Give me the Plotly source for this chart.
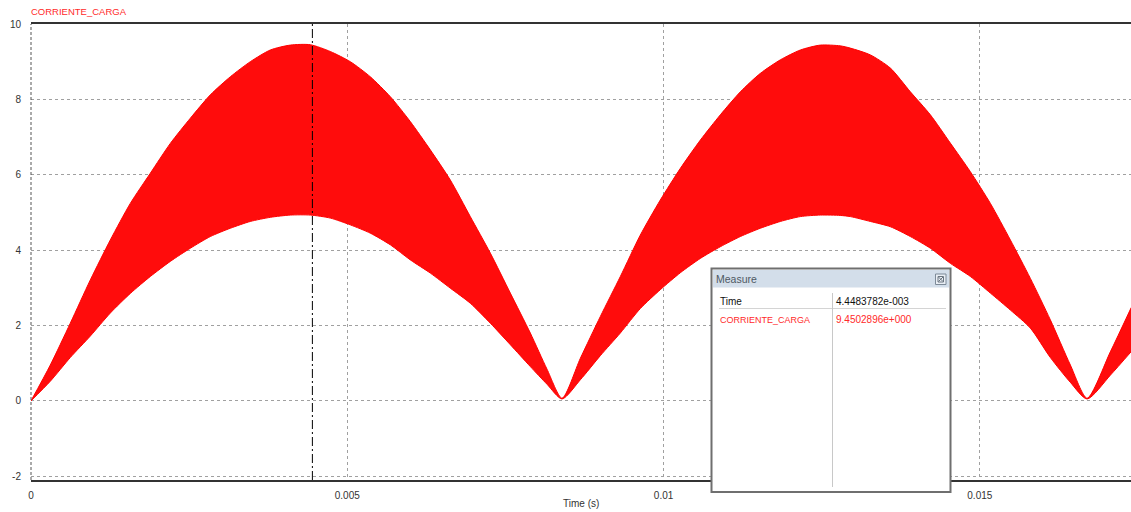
import plotly.graph_objects as go

# ---- data (time in ms, current in A) ----
t_ms = [0.000, 0.305, 0.621, 0.938, 1.254, 1.570, 1.886, 2.202, 2.519, 2.835,
        3.151, 3.467, 3.783, 4.099, 4.416, 4.732, 5.048, 5.364, 5.681, 5.997,
        6.313, 6.629, 6.945, 7.262, 7.578, 7.894, 8.158, 8.395, 8.685, 9.001,
        9.317, 9.633, 9.949, 10.266, 10.582, 10.898, 11.214, 11.530, 11.847, 12.163,
        12.479, 12.795, 12.953, 13.270, 13.586, 13.902, 14.218, 14.534, 14.851, 15.167,
        15.483, 15.799, 16.115, 16.432, 16.696, 17.063, 17.395]
i_upper = [0.00, 0.95, 2.06, 3.21, 4.27, 5.24, 6.04, 6.83, 7.50, 8.12,
           8.60, 9.00, 9.31, 9.44, 9.45, 9.27, 9.00, 8.60, 8.07, 7.41,
           6.66, 5.86, 4.89, 3.92, 2.86, 1.80, 0.84, 0.07, 1.13, 2.24,
           3.30, 4.40, 5.33, 6.17, 6.92, 7.59, 8.20, 8.69, 9.05, 9.31,
           9.44, 9.42, 9.36, 9.18, 8.83, 8.20, 7.59, 6.84, 6.08, 5.24,
           4.27, 3.25, 2.15, 0.95, 0.07, 1.30, 2.48]
i_lower = [0.00, 0.52, 1.15, 1.72, 2.33, 2.85, 3.30, 3.70, 4.05, 4.36,
           4.58, 4.76, 4.87, 4.93, 4.93, 4.85, 4.67, 4.45, 4.14, 3.74,
           3.39, 2.99, 2.59, 2.06, 1.49, 0.91, 0.44, 0.05, 0.56, 1.20,
           1.80, 2.45, 2.95, 3.40, 3.78, 4.09, 4.36, 4.58, 4.76, 4.89,
           4.93, 4.92, 4.89, 4.76, 4.62, 4.36, 4.05, 3.65, 3.30, 2.86,
           2.41, 1.93, 1.15, 0.49, 0.05, 0.68, 1.31]

x_ticks = [0, 0.005, 0.01, 0.015]
x_tick_text = ["0", "0.005", "0.01", "0.015"]
y_ticks = [-2, 0, 2, 4, 6, 8, 10]
y_tick_text = ["-2", "0", "2", "4", "6", "8", "10"]

series_name = "CORRIENTE_CARGA"
cursor_time = 4.4483782e-3
cursor_value = 9.4502896
cursor_time_text = "4.4483782e-003"
cursor_value_text = "9.4502896e+000"

# ---- layout geometry ----
W, H = 1131, 512
ML, MR, MT, MB = 31, 0, 24, 32
PW = W - ML - MR
PH = H - MT - MB


def px(xp):
    return (xp - ML) / PW


def py(yp):
    return (H - MB - yp) / PH


t_s = [v / 1000.0 for v in t_ms]
RED = "#ff0000"

fig = go.Figure()
fig.add_trace(go.Scatter(x=t_s, y=i_lower, mode="lines",
                         line=dict(color=RED, width=1, shape="spline", smoothing=0.7),
                         showlegend=False, hoverinfo="skip"))
fig.add_trace(go.Scatter(x=t_s, y=i_upper, mode="lines",
                         line=dict(color=RED, width=1, shape="spline", smoothing=0.7),
                         fill="tonexty", fillcolor="rgba(255,12,12,1)",
                         showlegend=False, hoverinfo="skip"))

font_main = "Liberation Sans, Arial, sans-serif"
GRID = "#a0a0a0"

shapes = []
# cursor
shapes.append(dict(type="line", xref="x", yref="paper", x0=cursor_time, x1=cursor_time,
                   y0=0, y1=1, line=dict(color="black", width=1, dash="9px,3px,2px,3px"),
                   layer="above"))
# measure window
shapes.append(dict(type="rect", xref="paper", yref="paper",
                   x0=px(711.5), x1=px(950.5), y0=py(492), y1=py(268.5),
                   fillcolor="white", line=dict(color="#6f6f6f", width=2), layer="above"))
shapes.append(dict(type="rect", xref="paper", yref="paper",
                   x0=px(713), x1=px(949), y0=py(287.5), y1=py(270),
                   fillcolor="#d3deea", line=dict(width=0), layer="above"))
# close button
shapes.append(dict(type="rect", xref="paper", yref="paper",
                   x0=px(935.5), x1=px(946), y0=py(284.5), y1=py(274),
                   fillcolor="#e9eef4", line=dict(color="#7d8a98", width=1), layer="above"))
shapes.append(dict(type="rect", xref="paper", yref="paper",
                   x0=px(938), x1=px(943.5), y0=py(282), y1=py(276.5),
                   fillcolor="rgba(0,0,0,0)", line=dict(color="#6a7580", width=1), layer="above"))
shapes.append(dict(type="line", xref="paper", yref="paper",
                   x0=px(938.5), x1=px(943), y0=py(281.5), y1=py(277),
                   line=dict(color="#6a7580", width=1), layer="above"))
shapes.append(dict(type="line", xref="paper", yref="paper",
                   x0=px(938.5), x1=px(943), y0=py(277), y1=py(281.5),
                   line=dict(color="#6a7580", width=1), layer="above"))
# table separators
shapes.append(dict(type="line", xref="paper", yref="paper",
                   x0=px(719), x1=px(946), y0=py(308.5), y1=py(308.5),
                   line=dict(color="#d4d4d4", width=1), layer="above"))
shapes.append(dict(type="line", xref="paper", yref="paper",
                   x0=px(832.5), x1=px(832.5), y0=py(293), y1=py(487),
                   line=dict(color="#c8c8c8", width=1), layer="above"))
# dashed left border
shapes.append(dict(type="line", xref="paper", yref="paper",
                   x0=0, x1=0, y0=0, y1=1,
                   line=dict(color="#555555", width=1, dash="3px,2px"), layer="above"))

annotations = [
    dict(text=series_name, xref="paper", yref="paper", x=px(29), y=py(11.5),
         xanchor="left", yanchor="middle", showarrow=False,
         font=dict(family=font_main, size=9.5, color="#ff2a2a")),
    dict(text="Time (s)", xref="paper", yref="paper", x=px(581), y=py(503),
         xanchor="center", yanchor="middle", showarrow=False,
         font=dict(family=font_main, size=10, color="#333333")),
    dict(text="Measure", xref="paper", yref="paper", x=px(713.5), y=py(279),
         xanchor="left", yanchor="middle", showarrow=False,
         font=dict(family=font_main, size=10.5, color="#4f5963")),
    dict(text="Time", xref="paper", yref="paper", x=px(717.5), y=py(301.5),
         xanchor="left", yanchor="middle", showarrow=False,
         font=dict(family=font_main, size=10, color="#111111")),
    dict(text=cursor_time_text, xref="paper", yref="paper", x=px(833.5), y=py(301.5),
         xanchor="left", yanchor="middle", showarrow=False,
         font=dict(family=font_main, size=10, color="#111111")),
    dict(text=series_name, xref="paper", yref="paper", x=px(717.5), y=py(319.5),
         xanchor="left", yanchor="middle", showarrow=False,
         font=dict(family=font_main, size=9, color="#ff2a2a")),
    dict(text=cursor_value_text, xref="paper", yref="paper", x=px(833.5), y=py(319.5),
         xanchor="left", yanchor="middle", showarrow=False,
         font=dict(family=font_main, size=10, color="#ff2a2a")),
]

fig.update_layout(
    width=W, height=H, autosize=False,
    margin=dict(l=ML, r=MR, t=MT, b=MB, pad=0),
    paper_bgcolor="white", plot_bgcolor="white",
    hovermode=False,
    shapes=shapes, annotations=annotations,
    font=dict(family=font_main, size=10, color="#333333"),
    xaxis=dict(range=[0, 0.01739], tickvals=x_ticks, ticktext=x_tick_text,
               showgrid=True, gridcolor=GRID, griddash="3px,3px", gridwidth=1,
               zeroline=False, showline=True, linecolor="#333333", linewidth=1.5,
               mirror=True, ticks="", ticklabelstandoff=5,
               tickfont=dict(family=font_main, size=10, color="#333333")),
    yaxis=dict(range=[-2.1, 10.0], tickvals=y_ticks, ticktext=y_tick_text,
               showgrid=True, gridcolor=GRID, griddash="3px,3px", gridwidth=1,
               zeroline=False, showline=False, ticks="", ticklabelstandoff=9,
               tickfont=dict(family=font_main, size=10, color="#333333")),
)

fig.write_html("out.html", config={"displayModeBar": False})
